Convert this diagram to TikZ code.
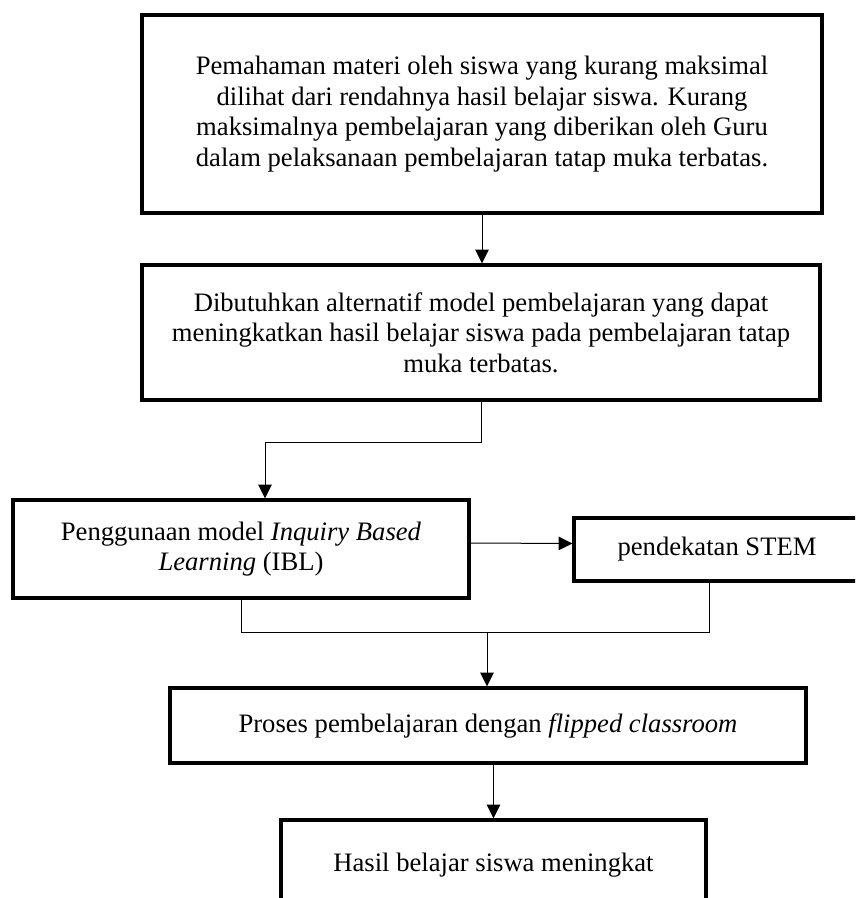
\documentclass[tikz,border=0pt]{standalone}
\usepackage{fontspec}
\setmainfont{Liberation Serif}
\usepackage{tikz}
\usetikzlibrary{arrows.meta}

\tikzset{
	kotak/.style={draw, line width=1.3pt, inner sep=0pt, align=center, font=\fontsize{10.65}{12.2}\selectfont},
	garis/.style={line width=0.4pt},
	panah/.style={line width=0.4pt, -{Triangle[length=5.5pt,width=5.4pt]}}
}

\begin{document}
\begin{tikzpicture}[x=0.4pt, y=-0.4pt]
			%%%%% START %%%%%
			\useasboundingbox (0, 0) rectangle (855, 898);
			\clip (0, 0) rectangle (855, 898);
			
			\node[kotak, minimum width=272pt, minimum height=79.2pt] (masalah) at (482, 114)
				{Pemahaman materi oleh siswa yang kurang maksimal\\ dilihat dari rendahnya hasil belajar siswa. Kurang\\ maksimalnya pembelajaran yang diberikan oleh Guru\\ dalam pelaksanaan pembelajaran tatap muka terbatas.};
			
			\node[kotak, minimum width=271.2pt, minimum height=54pt] (alternatif) at (481, 332.5)
				{Dibutuhkan alternatif model pembelajaran yang dapat\\ meningkatkan hasil belajar siswa pada pembelajaran tatap\\ muka terbatas.};
			
			\node[kotak, minimum width=182.4pt, minimum height=39.2pt] (ibl) at (241, 549)
				{Penggunaan model \textit{Inquiry Based}\\ \textit{Learning} (IBL)};
			
			\node[kotak, minimum width=114.4pt, minimum height=25.2pt] (stem) at (717, 549.5)
				{pendekatan STEM};
			
			\node[kotak, minimum width=254.4pt, minimum height=30pt] (flipped) at (488, 725.5)
				{Proses pembelajaran dengan \textit{flipped classroom}};
			
			\node[kotak, minimum width=170pt, minimum height=36pt] (hasil) at (493.5, 865)
				{Hasil belajar siswa meningkat};
			
			\coordinate (j1) at (265, 442);
			\coordinate (j2) at (487, 632);
			\coordinate (j3) at (709, 632);
			
			\draw[panah] (masalah.south) -- (masalah.south |- alternatif.north);
			\draw[garis] (alternatif.south) |- (j1);
			\draw[panah] (j1) -- (j1 |- ibl.north);
			\draw[panah] ([yshift=2.4pt]ibl.east) -- ([yshift=2.4pt]stem.west);
			\draw[garis] (ibl.south) |- (j3) -- (j3 |- stem.south);
			\draw[panah] (j2) -- (j2 |- flipped.north);
			\draw[panah] (hasil.north |- flipped.south) -- (hasil.north);
			%%%%% END %%%%%
\end{tikzpicture}
\end{document}
